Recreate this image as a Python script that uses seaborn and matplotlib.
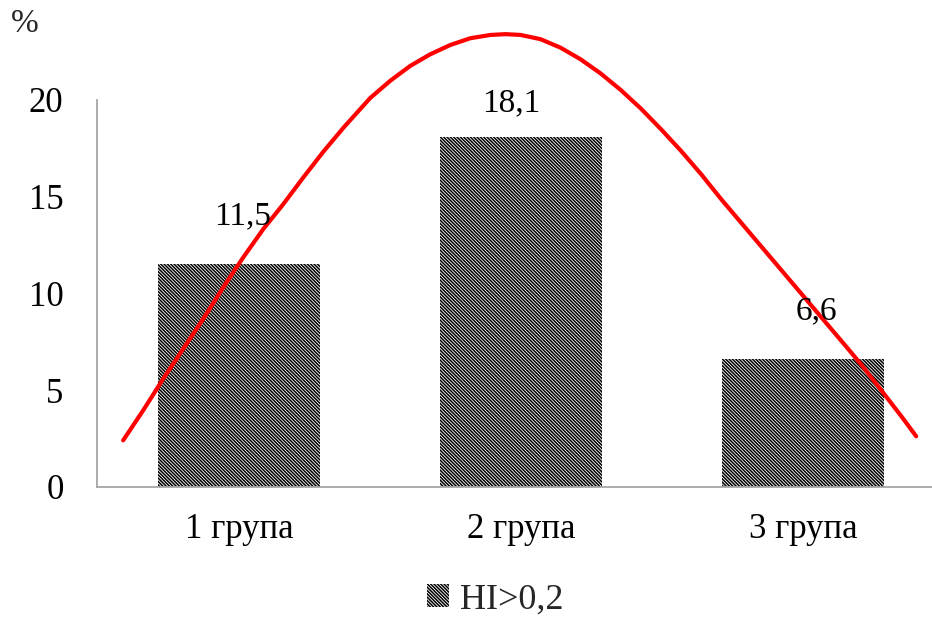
import matplotlib
matplotlib.use("Agg")
import matplotlib.pyplot as plt
import seaborn as sns
import pandas as pd

# Share of HI > 0.2 by group, %
groups = ["1 група", "2 група", "3 група"]
shares = [11.5, 18.1, 6.6]
value_labels = ["11,5", "18,1", "6,6"]
series_name = "HI>0,2"

# Smooth trend curve traced over the bars (x in category units, y in %)
curve_x = [-0.411, -0.340, -0.269, -0.198, -0.127, -0.056, 0.015, 0.086,
           0.157, 0.228, 0.299, 0.371, 0.465, 0.536, 0.607, 0.678, 0.749,
           0.820, 0.892, 0.945, 0.998, 1.069, 1.140, 1.211, 1.282, 1.353,
           1.425, 1.496, 1.567, 1.638, 1.709, 1.780, 1.851, 1.922, 1.993,
           2.064, 2.135, 2.206, 2.277, 2.348, 2.401]
curve_y = [2.41, 3.96, 5.59, 7.14, 8.69, 10.32, 11.87, 13.33,
           14.62, 16.00, 17.33, 18.58, 20.10, 20.99, 21.76, 22.36, 22.84,
           23.19, 23.36, 23.40, 23.36, 23.14, 22.70, 22.10, 21.37, 20.52,
           19.55, 18.49, 17.37, 16.17, 14.88, 13.66, 12.44, 11.22, 10.00,
           8.78, 7.56, 6.33, 5.00, 3.66, 2.62]

y_ticks = [0, 5, 10, 15, 20]

sns.set_theme(style="white")
plt.rcParams["font.family"] = ["Liberation Serif", "DejaVu Serif"]
plt.rcParams["hatch.linewidth"] = 1.1

fig = plt.figure(figsize=(9.32, 6.17), dpi=100)
ax = fig.add_axes([0.104, 0.2107, 0.896, 0.6273])

df = pd.DataFrame({"group": groups, "share": shares})
sns.barplot(data=df, x="group", y="share", ax=ax, width=0.574,
            color="white", edgecolor="black", linewidth=0,
            hatch="\\" * 10, label=series_name, saturation=1)
if ax.get_legend() is not None:
    ax.get_legend().remove()
bar_patch = ax.patches[0]

sns.lineplot(x=curve_x, y=curve_y, ax=ax, sort=False, color="#FF0000",
             linewidth=3, clip_on=False, legend=False)

# Value labels above the bars (offsets in pixels)
label_offsets = [(4, 33), (-10, 18), (13, 33)]
for i, (val, txt) in enumerate(zip(shares, value_labels)):
    dx, dy = label_offsets[i]
    ax.annotate(txt, xy=(i, val), xytext=(dx * 0.72, dy * 0.72),
                textcoords="offset points", ha="center", va="bottom",
                fontsize=24, color="black")

ax.set_xlim(-0.504, 2.457)
ax.set_ylim(0, 20)
ax.set_yticks(y_ticks)
ax.set_yticklabels([str(t) for t in y_ticks])
ax.set_xlabel("")
ax.set_ylabel("")
ax.tick_params(axis="y", length=0, pad=24, labelsize=25, labelcolor="black")
ax.tick_params(axis="x", length=0, pad=19, labelsize=25, labelcolor="black")

for side in ["top", "right"]:
    ax.spines[side].set_visible(False)
for side in ["left", "bottom"]:
    ax.spines[side].set_color("#A6A6A6")
    ax.spines[side].set_linewidth(1.3)

fig.text(25 / 932, 1 - 24 / 617, "%", ha="center", va="center", fontsize=24)

leg = fig.legend([bar_patch], [series_name], loc="center",
                 bbox_to_anchor=(495 / 932, 1 - 600 / 617), frameon=False,
                 fontsize=26, handlelength=0.62, handleheight=0.62,
                 handletextpad=0.3)

fig.savefig("out.png", dpi=100, facecolor="white")
